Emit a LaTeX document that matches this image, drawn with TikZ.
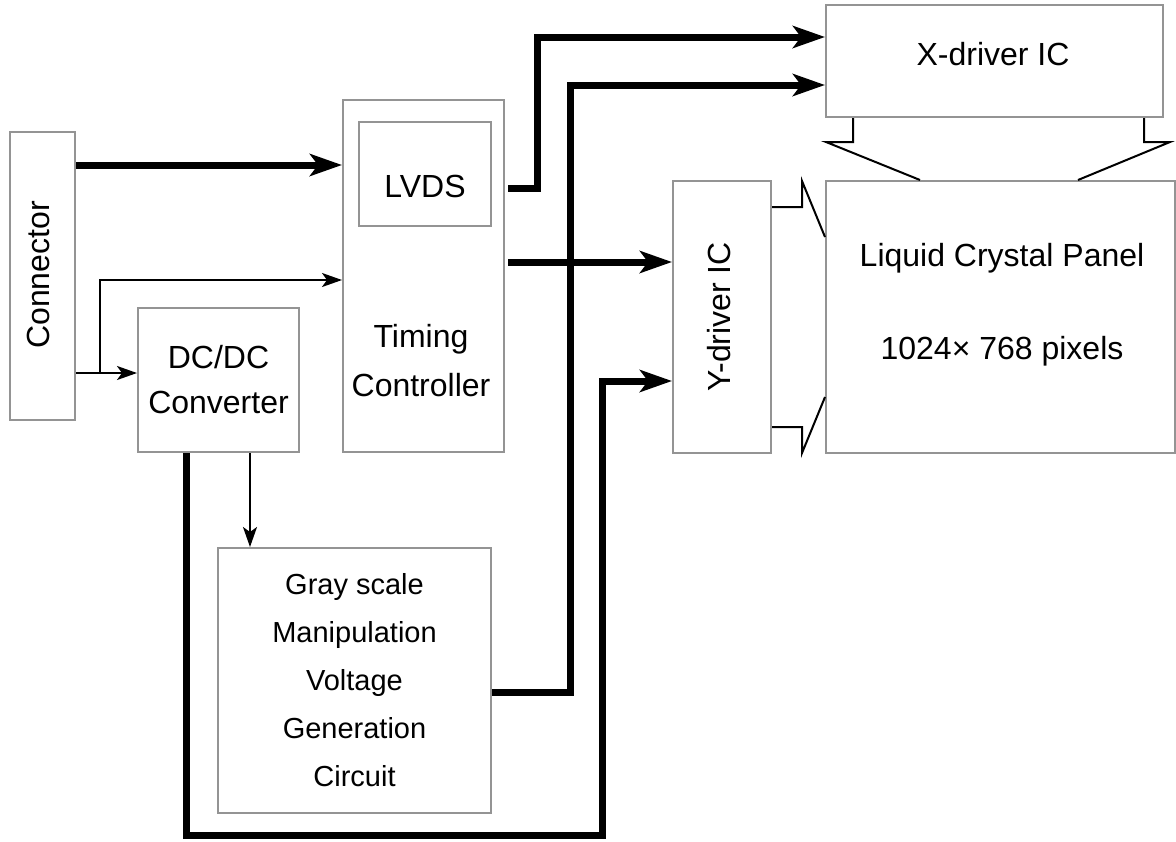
\documentclass[tikz,border=0pt]{standalone}
\usepackage{fontspec}
\setmainfont{Liberation Sans}
\usetikzlibrary{arrows.meta}
\definecolor{boxgray}{gray}{0.58}
\begin{document}
\begin{tikzpicture}[x=0.5pt,y=-0.5pt,
  box/.style={draw=boxgray,line width=1pt,inner sep=0pt},
  lbl/.style={inner sep=0pt,font=\fontsize{16}{22.5}\selectfont,align=center},
  bigarrow/.style={line width=3.5pt,-{Stealth[length=16pt,width=11pt,inset=4pt]}},
  smallarrow/.style={line width=1pt,-{Stealth[length=10pt,width=7pt,inset=2.5pt]}},
  link/.style={line width=1pt}]
\useasboundingbox (0,0) rectangle (1176,841);
% boxes
\node[box,minimum width=32.5pt,minimum height=144pt] (conn) at (42.5,276) {};
\node[lbl,rotate=90] (conntext) at (38.5,275) {Connector};
\node[box,lbl,minimum width=80.5pt,minimum height=72pt] (dc) at (218.5,380) {DC/DC\\Converter};
\node[box,minimum width=80.5pt,minimum height=176pt] (tc) at (423.5,276) {};
\node[lbl,font=\fontsize{16}{24.5}\selectfont] (tctext) at (421,361) {Timing\\Controller};
\node[box,minimum width=66pt,minimum height=52pt] (lvds) at (425,174) {};
\node[lbl] (lvdstext) at (425,186.5) {LVDS};
\node[box,minimum width=136.5pt,minimum height=132.5pt,font=\fontsize{14.5}{24}\selectfont,align=center] (gray) at (354.5,680.5) {Gray scale\\Manipulation\\Voltage\\Generation\\Circuit};
\node[box,minimum width=168.5pt,minimum height=56pt] (xd) at (994.5,61) {};
\node[lbl] (xdtext) at (993,54.5) {X-driver IC};
\node[box,minimum width=49pt,minimum height=136pt] (yd) at (722,317) {};
\node[lbl,rotate=90] (ydtext) at (719.5,317) {Y-driver IC};
\node[box,minimum width=174.5pt,minimum height=136pt] (lc) at (1000.5,317) {};
\node[lbl,font=\fontsize{16}{46.7}\selectfont] (lctext) at (1002,305) {Liquid Crystal Panel\\1024× 768 pixels};
% thick connectors
\draw[bigarrow] (conn.east |- 0,165) -- (tc.west |- 0,165);
\draw[bigarrow] (tc.east |- 0,188) ++(3,0) -- (537,188) -- (537,37) -- (xd.west |- 0,37);
\draw[bigarrow] (gray.east |- 0,692.5) -- (570,692.5) -- (570,85) -- (xd.west |- 0,85);
\draw[bigarrow] (tc.east |- 0,262) ++(3,0) -- (yd.west |- 0,262);
\draw[bigarrow] (dc.south -| 186.5,0) -- (186.5,835.5) -- (602.5,835.5) -- (602.5,381) -- (yd.west |- 0,381);
% thin connectors
\coordinate (split) at (100,373);
\draw[smallarrow] (conn.east |- 0,373) -- (dc.west |- 0,373);
\draw[smallarrow] (split) -- (100,280) -- (tc.west |- 0,280);
\draw[smallarrow] (dc.south -| 250,0) -- (gray.north -| 250,0);
% driver-to-panel links
\draw[link] (xd.south -| 853,0) -- (853,142) -- (826,142) -- (lc.north -| 920,0);
\draw[link] (xd.south -| 1144,0) -- (1144,142) -- (1170,142) -- (lc.north -| 1078,0);
\draw[link] (yd.east |- 0,207) -- (802,207) -- (802,181) -- (lc.west |- 0,237);
\draw[link] (yd.east |- 0,427) -- (802,427) -- (802,453) -- (lc.west |- 0,397);
\end{tikzpicture}
\end{document}
